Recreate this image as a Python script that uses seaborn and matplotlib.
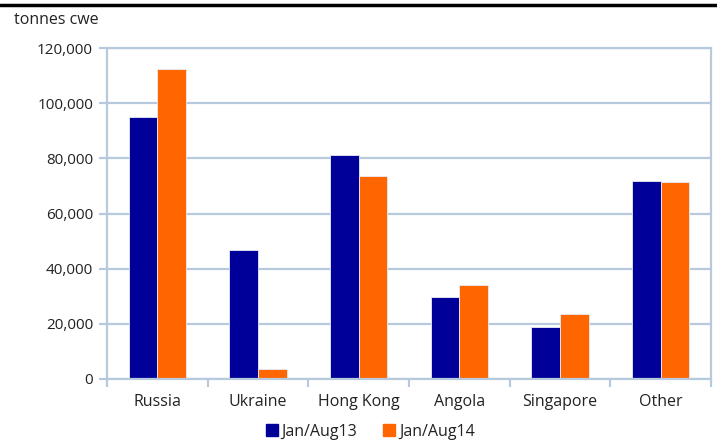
"""
Grouped bar chart: exports by destination, Jan/Aug13 vs Jan/Aug14
"""

import matplotlib
matplotlib.use("Agg")
import matplotlib.pyplot as plt
import matplotlib.lines as mlines
import seaborn as sns
import pandas as pd

# data (tonnes cwe)
countries = ["Russia", "Ukraine", "Hong Kong", "Angola", "Singapore", "Other"]
jan_aug13 = [95000, 46800, 81200, 29700, 18900, 71800]
jan_aug14 = [112400, 3600, 73600, 34100, 23600, 71400]
series = ["Jan/Aug13", "Jan/Aug14"]
y_ticks = [0, 20000, 40000, 60000, 80000, 100000, 120000]

df = pd.DataFrame({
    "country": countries * 2,
    "period": [series[0]] * len(countries) + [series[1]] * len(countries),
    "value": jan_aug13 + jan_aug14,
})

sns.set_style("white")
plt.rcParams["font.family"] = ["Open Sans", "DejaVu Sans"]

colors = ["#000099", "#ff6600"]
grid_col = "#b7c9dc"
text_col = "#222222"

fig = plt.figure(figsize=(7.17, 4.41), dpi=100)
ax = fig.add_axes([107 / 717, 62 / 441, 604 / 717, 331 / 441])

sns.barplot(data=df, x="country", y="value", hue="period",
            palette=colors, saturation=1, width=0.57,
            edgecolor="#e8ecf5", linewidth=0.6, ax=ax, legend=False)

ax.set_ylim(0, 120000)
ax.set_xlim(-0.5, len(countries) - 0.5)
ax.set_yticks(y_ticks)
ax.set_yticklabels([f"{v:,}" for v in y_ticks], fontsize=11, color=text_col)
ax.yaxis.grid(True, color=grid_col, linewidth=1.6)
ax.set_axisbelow(True)
ax.set_xlabel("")
ax.set_ylabel("")

# category boundary ticks on x axis
ax.set_xticks([i + 0.5 for i in range(-1, len(countries))], minor=True)
ax.tick_params(axis="x", which="minor", length=6, width=1.6, color=grid_col)
ax.tick_params(axis="x", which="major", length=0, pad=11, labelsize=11.5,
               labelcolor=text_col)
ax.tick_params(axis="y", length=6, width=1.6, color=grid_col, pad=4)
ax.tick_params(left=True, bottom=True, which="both")

for side in ["left", "bottom", "right", "top"]:
    ax.spines[side].set_color(grid_col)
    ax.spines[side].set_linewidth(1.6)

fig.text(14 / 717, 1 - 20 / 441, "tonnes cwe", fontsize=11.5, color=text_col,
         va="center", ha="left")

# top black rule from the cropped figure heading
fig.add_artist(mlines.Line2D([0, 1], [1 - 5 / 441, 1 - 5 / 441],
                             color="black", linewidth=2.5))

handles = [mlines.Line2D([], [], marker="s", linestyle="none", markersize=8.5,
                         color=c) for c in colors]
fig.legend(handles, series, loc="center", bbox_to_anchor=(0.515, 1 - 432 / 441),
           ncol=2, frameon=False, fontsize=11.5, handletextpad=0.1,
           columnspacing=1.5, handlelength=1.0, labelcolor=text_col)

fig.savefig("out.png", dpi=100)
